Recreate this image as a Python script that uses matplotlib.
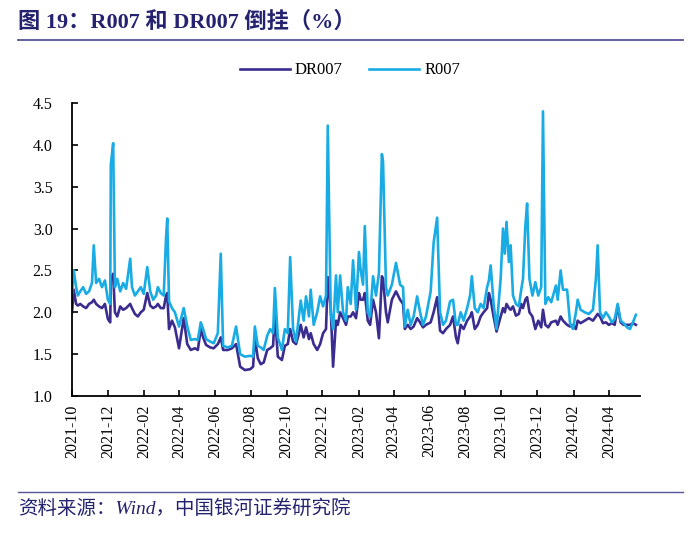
# -*- coding: utf-8 -*-
"""
图 19：R007 和 DR007 倒挂（%）
数值按原图目测读出，只是近似。
"""

import matplotlib
matplotlib.use("Agg")
import matplotlib.pyplot as plt
import matplotlib.dates as mdates
from matplotlib.lines import Line2D
from matplotlib.ticker import FormatStrFormatter
import pandas as pd

# =====================================================================
# 【资料区】日期 + 两条利率（%）
# =====================================================================
DATES = [
    "2021-10-01", "2021-10-04", "2021-10-08", "2021-10-11", "2021-10-15", "2021-10-20", "2021-10-25", "2021-10-30",
    "2021-11-04", "2021-11-07", "2021-11-11", "2021-11-16", "2021-11-21", "2021-11-26",
    "2021-12-01", "2021-12-05", "2021-12-06", "2021-12-10", "2021-12-13", "2021-12-17", "2021-12-22", "2021-12-27",
    "2022-01-01", "2022-01-08", "2022-01-11", "2022-01-16", "2022-01-21", "2022-01-26", "2022-01-31",
    "2022-02-06", "2022-02-11", "2022-02-16", "2022-02-21", "2022-02-24",
    "2022-03-01", "2022-03-06", "2022-03-10", "2022-03-12", "2022-03-15", "2022-03-20", "2022-03-25",
    "2022-04-01", "2022-04-09", "2022-04-15", "2022-04-21", "2022-04-28",
    "2022-05-03", "2022-05-08", "2022-05-12", "2022-05-17", "2022-05-24", "2022-05-30",
    "2022-06-06", "2022-06-11", "2022-06-15", "2022-06-23", "2022-06-30",
    "2022-07-07", "2022-07-14", "2022-07-22", "2022-07-31",
    "2022-08-05", "2022-08-08", "2022-08-13", "2022-08-18", "2022-08-23", "2022-08-29",
    "2022-09-03", "2022-09-08", "2022-09-11", "2022-09-16", "2022-09-23", "2022-09-28",
    "2022-10-03", "2022-10-07", "2022-10-12", "2022-10-17", "2022-10-22", "2022-10-25", "2022-10-30",
    "2022-11-03", "2022-11-08", "2022-11-11", "2022-11-16", "2022-11-22", "2022-11-27",
    "2022-12-02", "2022-12-07", "2022-12-10", "2022-12-15", "2022-12-19", "2022-12-24", "2022-12-27", "2022-12-31",
    "2023-01-05", "2023-01-10", "2023-01-13", "2023-01-18", "2023-01-22", "2023-01-27",
    "2023-02-01", "2023-02-04", "2023-02-08", "2023-02-11", "2023-02-16", "2023-02-20", "2023-02-25",
    "2023-03-02", "2023-03-07", "2023-03-12", "2023-03-14", "2023-03-19", "2023-03-22", "2023-03-29",
    "2023-04-05", "2023-04-12", "2023-04-17", "2023-04-20", "2023-04-25", "2023-04-30",
    "2023-05-05", "2023-05-11", "2023-05-16", "2023-05-21", "2023-05-26",
    "2023-06-03", "2023-06-08", "2023-06-14", "2023-06-19", "2023-06-24", "2023-06-29",
    "2023-07-06", "2023-07-11", "2023-07-16", "2023-07-19", "2023-07-24", "2023-07-29",
    "2023-08-04", "2023-08-09", "2023-08-12", "2023-08-17", "2023-08-22", "2023-08-27",
    "2023-09-01", "2023-09-07", "2023-09-10", "2023-09-13", "2023-09-18", "2023-09-23", "2023-09-30",
    "2023-10-04", "2023-10-07", "2023-10-10", "2023-10-14", "2023-10-17", "2023-10-21", "2023-10-26", "2023-10-31",
    "2023-11-04", "2023-11-07", "2023-11-11", "2023-11-14", "2023-11-18", "2023-11-23", "2023-11-28",
    "2023-12-03", "2023-12-08", "2023-12-11", "2023-12-15", "2023-12-20", "2023-12-25",
    "2024-01-02", "2024-01-05", "2024-01-10", "2024-01-14", "2024-01-21", "2024-01-26", "2024-01-31",
    "2024-02-05", "2024-02-08", "2024-02-13", "2024-02-20", "2024-02-27",
    "2024-03-05", "2024-03-10", "2024-03-13", "2024-03-17", "2024-03-22", "2024-03-27",
    "2024-04-01", "2024-04-06", "2024-04-11", "2024-04-16", "2024-04-21", "2024-04-26",
    "2024-05-02", "2024-05-07", "2024-05-12", "2024-05-17",
]

R007 = [
    2.23, 2.50, 2.30, 2.20, 2.25, 2.30, 2.22, 2.25,
    2.35, 2.80, 2.35, 2.40, 2.30, 2.38,
    2.15, 2.10, 3.76, 4.02, 2.30, 2.40, 2.25, 2.35,
    2.28, 2.64, 2.30, 2.20, 2.25, 2.30, 2.22,
    2.54, 2.25, 2.15, 2.20, 2.30,
    2.23, 2.20, 2.90, 3.12, 2.13, 2.05, 2.00,
    1.83, 2.05, 1.83, 1.67, 1.68,
    1.67, 1.88, 1.80, 1.68, 1.65, 1.63,
    1.75, 2.70, 1.60, 1.58, 1.60,
    1.83, 1.50, 1.47, 1.48,
    1.47, 1.83, 1.60, 1.58, 1.55, 1.72,
    1.80, 1.75, 2.29, 1.70, 1.55, 1.80,
    1.75, 2.66, 1.80, 1.65, 1.95, 2.14, 1.90,
    2.19, 1.95, 2.27, 1.85, 2.00, 2.19,
    2.07, 2.20, 4.23, 2.00, 1.80, 2.44, 2.00, 2.44,
    2.00, 1.90, 2.30, 2.10, 2.62, 2.03,
    2.72, 2.50, 2.33, 3.03, 2.00, 1.95, 2.43,
    2.20, 2.47, 3.89, 3.80, 2.30, 2.20, 2.33,
    2.59, 2.33, 2.30, 1.83, 2.03, 1.85,
    1.95, 2.19, 2.00, 1.85, 1.95,
    2.25, 2.83, 3.13, 2.00, 1.85, 1.90,
    2.13, 2.15, 1.85, 1.85, 2.00, 1.90,
    2.05, 2.20, 2.43, 2.05, 2.00, 2.10,
    2.05, 2.30, 2.38, 2.56, 2.10, 1.80, 2.40,
    3.00, 2.70, 3.08, 2.60, 2.80, 2.20, 2.10, 2.07,
    2.27, 2.40, 3.03, 3.30, 2.40, 2.20, 2.36,
    2.20, 2.30, 4.40, 2.10, 2.18, 2.12,
    2.32, 2.15, 2.50, 2.27, 2.27, 1.87, 1.80,
    2.00, 2.15, 2.03, 2.00, 1.98,
    2.03, 2.40, 2.80, 2.00, 1.93, 2.00,
    1.95, 1.88, 1.92, 2.10, 1.90, 1.87,
    1.82, 1.80, 1.88, 1.97,
]

DR007 = [
    2.00, 2.27, 2.10, 2.08, 2.10, 2.07, 2.05, 2.10,
    2.12, 2.15, 2.10, 2.07, 2.05, 2.10,
    1.92, 1.88, 2.40, 2.46, 2.00, 1.95, 2.07, 2.03,
    2.05, 2.10, 2.05, 1.98, 1.95, 2.00, 2.03,
    2.23, 2.08, 2.05, 2.07, 2.10,
    2.05, 2.05, 2.20, 2.23, 1.80, 1.90, 1.82,
    1.57, 1.93, 1.62, 1.55, 1.57,
    1.55, 1.80, 1.70, 1.61, 1.58, 1.57,
    1.62, 1.70, 1.55, 1.55, 1.57,
    1.62, 1.35, 1.31, 1.32,
    1.35, 1.70, 1.45, 1.38, 1.40, 1.55,
    1.57, 1.60, 2.00, 1.47, 1.43, 1.60,
    1.62, 1.80, 1.65, 1.62, 1.75, 1.85, 1.70,
    1.82, 1.68, 1.75, 1.62, 1.55, 1.62,
    1.75, 1.80, 2.42, 2.05, 1.35, 1.90, 1.85, 2.00,
    1.93, 1.85, 1.95, 1.95, 2.00, 1.93,
    2.23, 2.15, 2.15, 2.23, 1.90, 1.85, 2.15,
    2.00, 1.69, 2.43, 2.40, 2.00, 1.88, 2.15,
    2.25, 2.15, 2.10, 1.80, 1.85, 1.80,
    1.83, 1.93, 1.88, 1.82, 1.85,
    1.88, 2.00, 2.18, 1.78, 1.75, 1.80,
    1.85, 1.95, 1.70, 1.63, 1.85, 1.80,
    1.90, 1.95, 2.00, 1.80, 1.85, 1.95,
    2.00, 2.05, 2.23, 2.15, 1.95, 1.77, 1.95,
    2.05, 2.00, 2.10, 2.05, 2.03, 2.07, 1.96, 1.98,
    2.10, 2.05, 2.15, 2.18, 2.00, 1.95, 1.80,
    1.90, 1.82, 2.03, 1.85, 1.82, 1.88,
    1.90, 1.85, 1.95, 1.90, 1.85, 1.83, 1.85,
    1.80, 1.90, 1.87, 1.90, 1.93,
    1.90, 1.95, 1.98, 1.95, 1.87, 1.88,
    1.85, 1.87, 1.85, 2.08, 1.88, 1.85,
    1.85, 1.85, 1.87, 1.85,
]

TITLE = "图 19：R007 和 DR007 倒挂（%）"
SOURCE = "资料来源：Wind，中国银河证券研究院"

# =====================================================================
# 【画图】
# =====================================================================
plt.rcParams["font.family"] = ["Liberation Serif", "Noto Sans CJK SC"]
plt.rcParams["axes.unicode_minus"] = False

NAVY = "#25236F"     # 标题、来源文字
C_DR = "#3B2D90"     # DR007 深紫
C_R  = "#19ACE4"     # R007 浅蓝

x = pd.to_datetime(DATES)

fig = plt.figure(figsize=(7, 5.34), dpi=100)
ax = fig.add_axes([72 / 700, 138 / 534, 568 / 700, 293 / 534])

ax.plot(x, DR007, color=C_DR, lw=1.9, label="DR007")
ax.plot(x, R007, color=C_R, lw=1.9, label="R007")

ax.set_ylim(1.0, 4.5)
ax.set_yticks([1.0, 1.5, 2.0, 2.5, 3.0, 3.5, 4.0, 4.5])
ax.yaxis.set_major_formatter(FormatStrFormatter("%.1f"))
ax.set_xlim(pd.Timestamp("2021-10-01"), pd.Timestamp("2024-05-24"))
ax.xaxis.set_major_locator(mdates.MonthLocator(bymonth=[2, 4, 6, 8, 10, 12]))
ax.xaxis.set_major_formatter(mdates.DateFormatter("%Y-%m"))

for side in ["top", "right"]:
    ax.spines[side].set_visible(False)
for side in ["left", "bottom"]:
    ax.spines[side].set_linewidth(1.3)
    ax.spines[side].set_color("black")

ax.tick_params(axis="y", direction="in", length=4, width=1.2, pad=14, labelsize=11.5)
ax.tick_params(axis="x", direction="in", length=4, width=1.2, pad=6, labelsize=11.5,
               labelrotation=90)

# 图例放在图上方正中
fig.legend(loc="center", bbox_to_anchor=(0.5, 0.868), ncol=2, frameon=False,
           fontsize=12, handlelength=3.0, columnspacing=1.6, handletextpad=0.3)

# 标题 + 上下两条分隔线
fig.text(18 / 700, 1 - 22 / 534, TITLE, fontsize=16, fontweight="bold",
         color=NAVY, ha="left", va="center")
fig.add_artist(Line2D([18 / 700, 683 / 700], [1 - 40 / 534] * 2,
                      color="#55559A", lw=1.3))
fig.add_artist(Line2D([18 / 700, 683 / 700], [1 - 492 / 534] * 2,
                      color="#55559A", lw=1.0))
fig.text(18 / 700, 1 - 509 / 534, SOURCE, fontsize=14, style="italic",
         color=NAVY, ha="left", va="center")

fig.savefig("out.png", dpi=100)
